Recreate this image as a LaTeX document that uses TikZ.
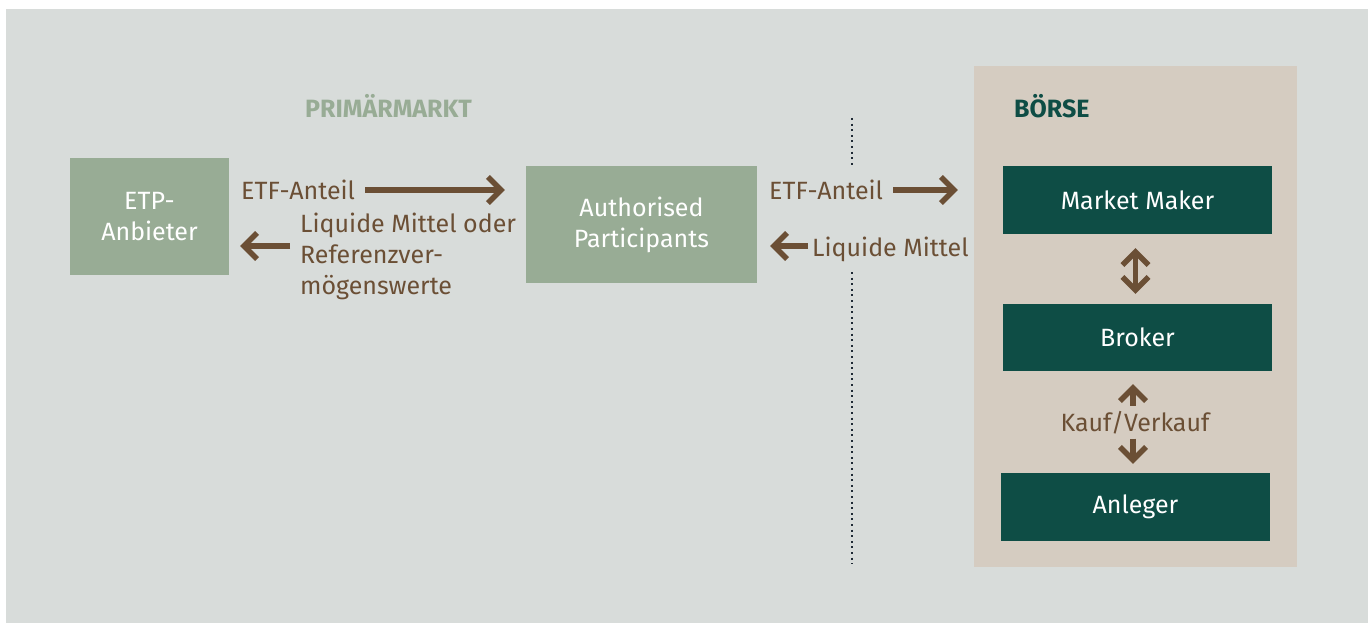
\documentclass[tikz,border=0pt]{standalone}
\usepackage{fontspec}
\setmainfont{Fira Sans}
\usetikzlibrary{arrows.meta,calc}
\definecolor{bggray}{HTML}{D8DCDA}
\definecolor{sage}{HTML}{98AC95}
\definecolor{beige}{HTML}{D5CCC1}
\definecolor{darkgreen}{HTML}{0E4D45}
\definecolor{arrowbrown}{HTML}{6B4F35}
\definecolor{dotc}{HTML}{1F2A35}
\begin{document}
\begin{tikzpicture}[x=1pt,y=-1pt,
  lbl/.style={font=\fontsize{25}{31}\selectfont, text=arrowbrown, inner sep=0pt, anchor=base west},
  sagebox/.style={fill=sage, text=white, align=center, font=\fontsize{25}{31}\selectfont, inner sep=0pt},
  darkbox/.style={fill=darkgreen, text=white, font=\fontsize{25}{31}\selectfont, minimum width=269pt, minimum height=68pt, inner sep=0pt},
  heading/.style={font=\fontsize{25}{30}\selectfont\bfseries, inner sep=0pt, anchor=base west},
  arr/.style={draw=arrowbrown, line width=5.5pt, -{Straight Barb[length=13pt,width=26pt]}},
  darr/.style={draw=arrowbrown, line width=5.5pt, {Straight Barb[length=13pt,width=26pt]}-{Straight Barb[length=13pt,width=26pt]}},
  sep/.style={draw=dotc, line width=2pt, dash pattern=on 2pt off 3.6pt}
]
\useasboundingbox (0,0) rectangle (1371,623);
\fill[white] (0,0) rectangle (1371,623);
\fill[bggray] (6,9) rectangle (1368,623);

\node[fill=beige, minimum width=323pt, minimum height=501pt, inner sep=0pt] (panel) at (1135.5,316.5) {};

\node[sagebox, minimum width=159pt, minimum height=117pt] (etp) at (149.5,216.5) {ETP-\\Anbieter};
\node[sagebox, minimum width=231pt, minimum height=117pt] (ap) at (641.5,224.5) {Authorised\\Participants};

\node[darkbox] (mm) at (1137.5,200) {Market Maker};
\node[darkbox, minimum height=67pt] (broker) at (1137.5,337.5) {Broker};
\node[darkbox] (anleger) at (1135.5,507) {Anleger};

\node[heading, text=sage] (prim) at (305,118) {PRIMÄRMARKT};
\node[heading, text=darkgreen] (boerse) at (1014,118) {BÖRSE};

\node[lbl] (t1) at (241,200) {ETF-Anteil};
\node[lbl, align=left] (t2) at (300,294) {Liquide Mittel oder\\Referenzver-\\mögenswerte};
\node[lbl] (t3) at (769,199) {ETF-Anteil};
\node[lbl] (t4) at (812,256) {Liquide Mittel};
\node[lbl, anchor=base] (kv) at (1135,431.7) {Kauf/Verkauf};

\draw[arr] ($(t1.base east)+(10,-10)$) -- ($(ap.west |- t1.base)+(-21,-10)$);
\draw[arr] ($(etp.east)+(61,29.5)$) -- ($(etp.east)+(11,29.5)$);
\draw[arr] ($(t3.base east)+(10,-9)$) -- ($(panel.west |- t3.base)+(-16,-9)$);
\draw[arr] ($(t4.base west)+(-4,-10)$) -- ($(ap.east |- t4.base)+(13,-10)$);
\draw[darr] ($(mm.south)+(-2,14)$) -- ($(broker.north)+(-2,-10)$);
\draw[arr] ($(kv.base)+(-2,-26)$) -- ($(broker.south)+(-4.5,13)$);
\draw[arr] ($(kv.base)+(-2,7)$) -- ($(anleger.north)+(-2.5,-9)$);

\coordinate (d1) at (852,118);
\coordinate (d2) at (852,166);
\coordinate (d3) at (852,272);
\coordinate (d4) at (852,564);
\draw[sep] (d1) -- (d2);
\draw[sep] (d3) -- (d4);
\end{tikzpicture}
\end{document}
